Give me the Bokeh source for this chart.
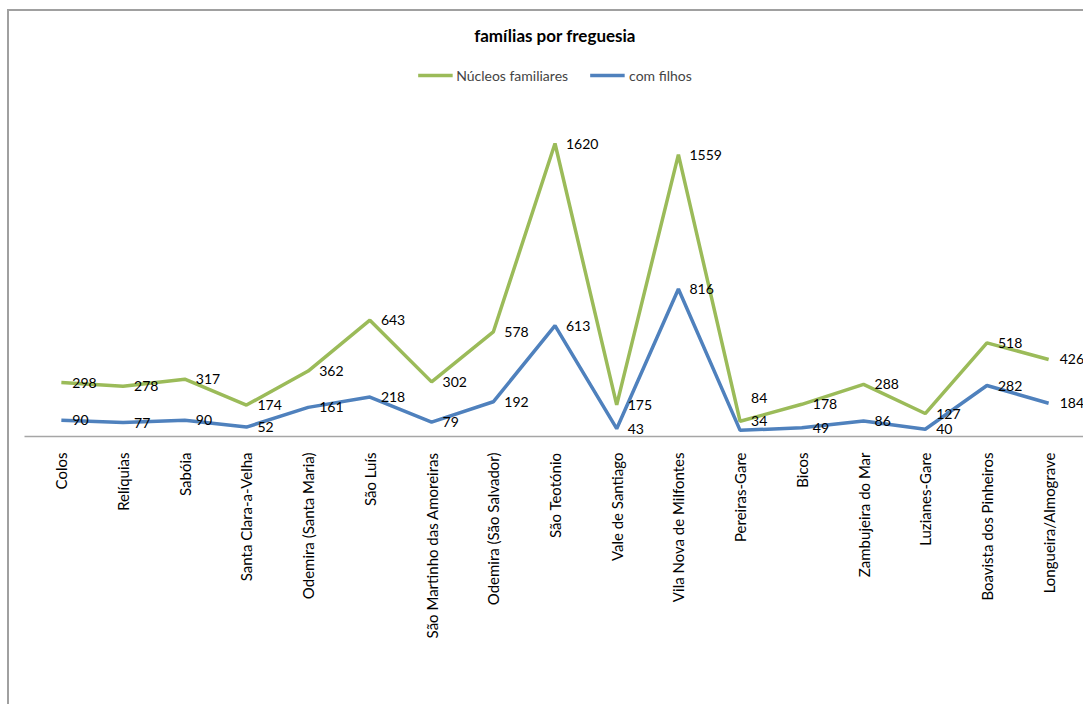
import math
from bokeh.plotting import figure
from bokeh.core.properties import value
from bokeh.models import ColumnDataSource, FactorRange, Range1d, Legend, LegendItem, LabelSet, Label
from bokeh.embed import file_html
from bokeh.resources import INLINE

categories = ["Colos", "Relíquias", "Sabóia", "Santa Clara-a-Velha", "Odemira (Santa Maria)",
              "São Luís", "São Martinho das Amoreiras", "Odemira (São Salvador)", "São Teotónio",
              "Vale de Santiago", "Vila Nova de Milfontes", "Pereiras-Gare", "Bicos",
              "Zambujeira do Mar", "Luzianes-Gare", "Boavista dos Pinheiros", "Longueira/Almograve"]
nucleos = [298, 278, 317, 174, 362, 643, 302, 578, 1620, 175, 1559, 84, 178, 288, 127, 518, 426]
filhos = [90, 77, 90, 52, 161, 218, 79, 192, 613, 43, 816, 34, 49, 86, 40, 282, 184]

FONT = "Lato"
GREEN = "#9BBB59"
BLUE = "#4F81BD"

# label nudges (screen px, up) where the original moved overlapping labels
nudge_nuc = {"Pereiras-Gare": 23}
nudge_fil = {"Pereiras-Gare": 9}

src = ColumnDataSource(dict(cat=categories, nuc=nucleos, fil=filhos,
                            nuc_t=[str(v) for v in nucleos], fil_t=[str(v) for v in filhos],
                            nuc_dy=[nudge_nuc.get(c, 0) for c in categories],
                            fil_dy=[nudge_fil.get(c, 0) for c in categories]))

Y_TOP = 2350
p = figure(x_range=FactorRange(*categories, range_padding=0.0973, range_padding_units="absolute"),
           y_range=Range1d(0, Y_TOP),
           width=1076, height=695, output_backend="svg", toolbar_location=None,
           min_border_left=15, min_border_right=0, min_border_bottom=270, min_border_top=0)
p.styles = {"border-top": "2px solid #a0a0a0", "border-left": "2px solid #a0a0a0",
            "margin-left": "7px", "margin-top": "9px"}
p.title.visible = False

p.grid.visible = False
p.yaxis.visible = False
p.outline_line_color = None
p.background_fill_color = "white"
p.border_fill_color = "white"

xa = p.xaxis[0]
xa.axis_line_color = "#a6a6a6"
xa.axis_line_width = 1.5
xa.major_tick_line_color = None
xa.minor_tick_line_color = None
xa.major_label_orientation = math.pi / 2
xa.major_label_text_font = FONT
xa.major_label_text_font_size = "15px"
xa.major_label_text_color = "black"
xa.major_label_standoff = 10

r1 = p.line("cat", "nuc", source=src, line_color=GREEN, line_width=3.5)
r2 = p.line("cat", "fil", source=src, line_color=BLUE, line_width=3.5)

for col, tcol, dy in (("nuc", "nuc_t", "nuc_dy"), ("fil", "fil_t", "fil_dy")):
    p.add_layout(LabelSet(x="cat", y=col, text=tcol, source=src, x_offset=11, y_offset=dy,
                          text_baseline="middle", text_align="left",
                          text_font=value(FONT), text_font_size=value("14px"),
                          text_color="black"))

legend = Legend(items=[LegendItem(label="Núcleos familiares", renderers=[r1]),
                       LegendItem(label="com filhos", renderers=[r2])],
                orientation="horizontal", location="top_center",
                label_text_font=FONT, label_text_font_size="14px",
                glyph_width=35, spacing=22, border_line_alpha=0, background_fill_alpha=0,
                margin=48, padding=6, label_standoff=4)
p.add_layout(legend, "center")

p.add_layout(Label(x=len(categories) / 2, y=Y_TOP * (436 - 35) / 425, text="famílias por freguesia",
                   text_align="center", text_baseline="middle", text_font=FONT,
                   text_font_size="17px", text_font_style="bold", text_color="black"))

open("out.html", "w").write(file_html(p, INLINE))
